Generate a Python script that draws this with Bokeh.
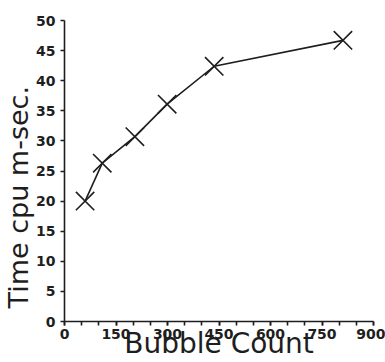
from bokeh.plotting import figure
from bokeh.models import Range1d, FixedTicker, Title
from bokeh.embed import file_html
from bokeh.resources import INLINE

bubble_count = [60, 110, 205, 299, 436, 811]
cpu_time = [20.0, 26.3, 30.7, 36.1, 42.4, 46.7]
x_ticks = [0, 150, 300, 450, 600, 750, 900]
x_minor = list(range(0, 901, 50))
y_ticks = [0, 5, 10, 15, 20, 25, 30, 35, 40, 45, 50]

INK = "#1e1e1e"
FONT = "DejaVu Sans"

p = figure(width=385, height=362, output_backend="svg", toolbar_location=None,
           x_range=Range1d(0, 900), y_range=Range1d(0, 50),
           min_border_left=63, min_border_right=12, min_border_top=20, min_border_bottom=39)
p.outline_line_color = None
p.xgrid.visible = False
p.ygrid.visible = False
p.background_fill_color = "white"
p.border_fill_color = "white"

p.line(bubble_count, cpu_time, line_color=INK, line_width=1.6)
p.scatter(bubble_count, cpu_time, marker="x", size=26, line_color=INK, line_width=1.6)

for ax in (p.xaxis[0], p.yaxis[0]):
    ax.axis_line_color = INK
    ax.axis_line_width = 1.6
    ax.major_tick_line_color = INK
    ax.major_tick_line_width = 1.6
    ax.minor_tick_line_color = INK
    ax.minor_tick_line_width = 1.6
    ax.major_tick_in = 0
    ax.major_tick_out = 4
    ax.minor_tick_in = 0
    ax.minor_tick_out = 4
    ax.major_label_text_font = FONT
    ax.major_label_text_font_size = "14px"
    ax.major_label_text_font_style = "bold"
    ax.major_label_text_color = INK

p.xaxis[0].ticker = FixedTicker(ticks=x_ticks, minor_ticks=x_minor)
p.yaxis[0].ticker = FixedTicker(ticks=y_ticks, minor_ticks=[])
p.xaxis[0].major_label_standoff = 3
p.yaxis[0].major_label_standoff = 5

p.xaxis[0].axis_label = "Bubble Count"
p.xaxis[0].axis_label_text_font = FONT
p.xaxis[0].axis_label_text_font_size = "28px"
p.xaxis[0].axis_label_text_font_style = "normal"
p.xaxis[0].axis_label_text_color = INK
p.xaxis[0].axis_label_standoff = -15

ytitle = Title(text="Time cpu m-sec.", align="left", offset=13, standoff=0,
               text_font=FONT, text_font_size="27px", text_font_style="normal",
               text_color=INK)
p.add_layout(ytitle, "left")

open("out.html", "w").write(file_html(p, INLINE))
